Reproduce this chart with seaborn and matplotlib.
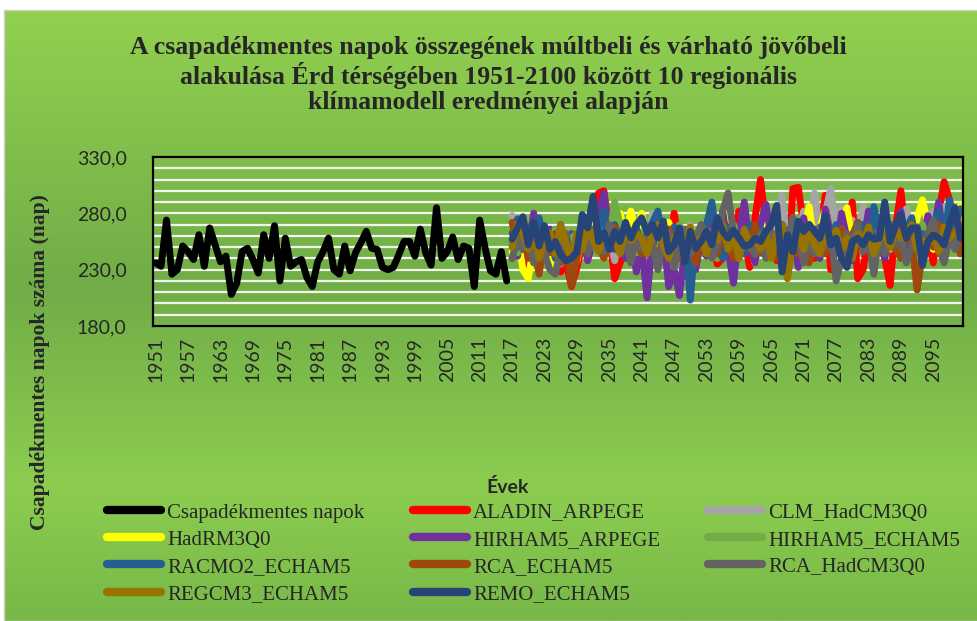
import numpy as np
import pandas as pd
import matplotlib
matplotlib.use('Agg')
import matplotlib.pyplot as plt
import seaborn as sns
from matplotlib.lines import Line2D
from matplotlib.patches import Rectangle
from matplotlib.colors import LinearSegmentedColormap

# ====================== DATA ======================
obs_years = list(range(1951, 2017))
model_years = list(range(2017, 2101))

observed = [236, 233, 274, 226, 230, 251, 246, 239, 261, 233,
            267, 252, 237, 242, 208, 218, 246, 249, 239, 227,
            261, 240, 269, 220, 258, 233, 237, 239, 223, 215,
            237, 246, 258, 230, 226, 251, 229, 245, 254, 264,
            249, 248, 232, 230, 232, 243, 255, 255, 242, 266,
            245, 234, 285, 240, 246, 259, 239, 251, 249, 215,
            274, 249, 229, 226, 246, 220]

aladin_arpege = [240, 262, 248, 235, 258, 270, 244, 262, 250, 228, 236, 215,
                 232, 252, 245, 270, 298, 300, 262, 222, 236, 250, 258, 242,
                 235, 262, 248, 270, 252, 240, 280, 255, 245, 232, 262, 248,
                 270, 255, 235, 240, 262, 250, 282, 258, 232, 276, 310, 270,
                 250, 238, 262, 225, 302, 303, 268, 245, 240, 262, 296, 230,
                 258, 278, 262, 290, 222, 230, 262, 248, 262, 240, 216, 268,
                 300, 255, 248, 268, 240, 258, 236, 280, 308, 292, 262, 256]

clm_hadcm3q0 = [278, 255, 262, 240, 258, 248, 266, 240, 256, 235, 248, 262,
                250, 268, 240, 256, 272, 248, 260, 238, 265, 252, 270, 255,
                262, 248, 280, 255, 242, 266, 250, 258, 240, 270, 252, 262,
                248, 270, 255, 276, 258, 244, 266, 252, 270, 262, 248, 280,
                258, 265, 296, 248, 276, 260, 282, 268, 298, 262, 280, 302,
                265, 285, 258, 274, 262, 286, 250, 270, 262, 280, 248, 266,
                258, 284, 262, 240, 270, 258, 282, 262, 286, 255, 270, 260]

hadrm3q0 = [245, 262, 230, 222, 252, 240, 258, 246, 232, 260, 244, 250,
            238, 260, 248, 270, 252, 240, 264, 250, 280, 258, 282, 262,
            280, 255, 270, 262, 248, 272, 256, 264, 242, 268, 258, 250,
            262, 240, 270, 252, 284, 258, 246, 270, 255, 236, 262, 276,
            248, 258, 240, 262, 272, 250, 264, 286, 252, 266, 284, 260,
            248, 264, 285, 256, 270, 250, 262, 240, 274, 258, 266, 252,
            268, 240, 250, 276, 292, 270, 248, 262, 274, 284, 258, 287]

hirham5_arpege = [252, 242, 270, 248, 280, 240, 256, 266, 246, 270, 240, 262,
                  250, 268, 238, 256, 278, 298, 262, 248, 258, 240, 262, 228,
                  250, 205, 258, 240, 262, 215, 230, 207, 248, 260, 230, 258,
                  242, 270, 252, 282, 248, 218, 262, 290, 252, 236, 270, 288,
                  258, 240, 270, 248, 262, 232, 276, 250, 266, 240, 284, 262,
                  245, 280, 258, 238, 272, 254, 282, 248, 264, 240, 270, 262,
                  282, 250, 266, 240, 256, 278, 262, 290, 256, 272, 250, 262]

hirham5_echam5 = [255, 245, 262, 250, 268, 242, 258, 248, 266, 252, 240, 258,
                  262, 248, 270, 255, 244, 262, 258, 290, 270, 250, 262, 245,
                  258, 270, 252, 242, 264, 256, 248, 270, 258, 236, 262, 250,
                  266, 252, 240, 262, 255, 270, 248, 258, 266, 244, 258, 252,
                  240, 262, 250, 232, 258, 266, 252, 270, 256, 244, 262, 258,
                  250, 266, 238, 258, 270, 252, 262, 246, 258, 270, 250, 262,
                  248, 262, 256, 240, 270, 252, 262, 246, 258, 266, 252, 262]

racmo2_echam5 = [262, 275, 248, 268, 256, 276, 250, 262, 240, 268, 255, 245,
                 258, 262, 270, 252, 266, 282, 248, 270, 256, 262, 240, 268,
                 250, 262, 272, 282, 250, 242, 268, 240, 262, 203, 262, 250,
                 270, 290, 255, 240, 268, 250, 262, 244, 270, 256, 266, 252,
                 262, 244, 270, 256, 276, 250, 262, 270, 248, 258, 266, 250,
                 270, 255, 244, 262, 256, 270, 250, 286, 262, 248, 270, 258,
                 252, 266, 276, 250, 262, 256, 270, 282, 258, 292, 268, 284]

rca_echam5 = [272, 250, 262, 240, 256, 226, 258, 245, 262, 236, 250, 216,
              240, 258, 246, 262, 252, 240, 258, 268, 250, 262, 246, 258,
              244, 262, 250, 240, 258, 266, 252, 240, 262, 250, 236, 258,
              250, 262, 244, 268, 252, 240, 258, 262, 250, 270, 245, 258,
              262, 240, 256, 250, 268, 244, 262, 236, 258, 250, 244, 262,
              252, 266, 240, 260, 272, 250, 262, 244, 258, 250, 264, 248,
              240, 262, 256, 212, 244, 262, 250, 270, 258, 252, 265, 244]

rca_hadcm3q0 = [240, 258, 248, 262, 236, 255, 244, 230, 226, 248, 262, 240,
                250, 262, 244, 266, 258, 246, 270, 262, 248, 258, 236, 260,
                248, 262, 252, 230, 258, 262, 232, 250, 266, 244, 258, 270,
                262, 240, 252, 282, 298, 262, 240, 256, 250, 244, 262, 240,
                262, 258, 270, 250, 276, 262, 236, 258, 244, 268, 250, 262,
                220, 240, 262, 250, 270, 246, 258, 226, 262, 244, 258, 252,
                262, 236, 250, 268, 240, 262, 274, 250, 236, 260, 248, 264]

regcm3_echam5 = [250, 270, 262, 248, 266, 240, 256, 262, 244, 270, 252, 240,
                 262, 248, 270, 256, 246, 262, 252, 258, 244, 268, 256, 262,
                 258, 244, 262, 270, 252, 240, 258, 262, 246, 268, 250, 258,
                 244, 262, 256, 270, 248, 262, 240, 266, 252, 258, 248, 262,
                 240, 262, 270, 222, 256, 262, 248, 268, 252, 244, 262, 256,
                 265, 248, 258, 240, 262, 252, 268, 244, 258, 262, 250, 266,
                 258, 262, 270, 248, 256, 252, 262, 246, 268, 258, 262, 270]

remo_echam5 = [257, 267, 277, 252, 272, 251, 269, 248, 255, 243, 238, 240,
               246, 279, 267, 295, 255, 263, 248, 264, 255, 272, 258, 270,
               276, 263, 270, 258, 273, 246, 252, 267, 237, 264, 249, 255,
               264, 252, 276, 264, 258, 265, 258, 251, 252, 258, 255, 264,
               270, 287, 228, 261, 246, 273, 264, 270, 264, 258, 278, 252,
               258, 240, 232, 255, 258, 252, 261, 257, 258, 290, 255, 269,
               279, 258, 267, 267, 234, 255, 261, 258, 252, 270, 285, 258]

series_names = ['Csapadékmentes napok', 'ALADIN_ARPEGE', 'CLM_HadCM3Q0', 'HadRM3Q0',
                'HIRHAM5_ARPEGE', 'HIRHAM5_ECHAM5', 'RACMO2_ECHAM5', 'RCA_ECHAM5',
                'RCA_HadCM3Q0', 'REGCM3_ECHAM5', 'REMO_ECHAM5']
series_colors = ['#000000', '#FF0000', '#A5A5A5', '#FFFF00', '#7030A0', '#70AD47',
                 '#255E91', '#9E480E', '#636363', '#997300', '#264478']

model_values = [aladin_arpege, clm_hadcm3q0, hadrm3q0, hirham5_arpege, hirham5_echam5,
                racmo2_echam5, rca_echam5, rca_hadcm3q0, regcm3_echam5, remo_echam5]

# ====================== Long table for seaborn ======================
frames = [pd.DataFrame({'Év': obs_years, 'Napok': observed, 'Sorozat': series_names[0]})]
for name, vals in zip(series_names[1:], model_values):
    assert len(vals) == len(model_years), name
    frames.append(pd.DataFrame({'Év': model_years, 'Napok': vals, 'Sorozat': name}))
df = pd.concat(frames, ignore_index=True)

# ====================== Figure ======================
sns.set_theme(style='white')
plt.rcParams['font.family'] = ['Lato', 'DejaVu Sans']

W, H = 977, 621
fig = plt.figure(figsize=(W / 100, H / 100), dpi=100)
fig.patch.set_facecolor('white')

# green gradient chart area
grad = LinearSegmentedColormap.from_list('g', [(0.0, '#92D050'), (0.45, '#70AD47'),
                                               (0.78, '#8CCD50'), (1.0, '#78B848')])
bg = fig.add_axes([5 / W, 0, 1 - 5 / W, 1 - 11 / H], zorder=-10)
bg.imshow(np.linspace(0, 1, 400).reshape(-1, 1), aspect='auto', cmap=grad,
          extent=[0, 1, 0, 1], origin='upper')
bg.set_axis_off()
fig.add_artist(Rectangle((4 / W, 0), 1, 1 - 10 / H, transform=fig.transFigure,
                         fill=False, edgecolor='#D0D0D0', lw=1))

ax = fig.add_axes([153 / W, 1 - 326 / H, 810 / W, 169 / H])
ax.patch.set_alpha(0)

sns.lineplot(data=df, x='Év', y='Napok', hue='Sorozat', hue_order=series_names,
             palette=series_colors, linewidth=5, legend=False, ax=ax,
             estimator=None, sort=False)

ax.set_xlim(1950.5, 2100.5)
ax.set_ylim(180, 330)
ax.set_yticks(range(180, 331, 50))
ax.set_yticklabels([f'{v:.1f}'.replace('.', ',') for v in range(180, 331, 50)], fontsize=14)
ax.set_yticks(range(180, 331, 10), minor=True)
ax.set_xticks(range(1951, 2101, 6))
ax.set_xticklabels([str(y) for y in range(1951, 2101, 6)], rotation=90, fontsize=14)
ax.set_xticks(range(1951, 2101), minor=True)
ax.grid(which='both', axis='y', color='white', lw=1.6, alpha=0.9)
ax.grid(which='both', axis='x', visible=False)
ax.set_axisbelow(True)
ax.tick_params(axis='x', which='both', direction='out', length=5, width=1, color='black', pad=3)
ax.tick_params(axis='y', which='major', direction='out', length=5, width=1, color='black', pad=14)
ax.tick_params(axis='y', which='minor', length=0)
for s in ax.spines.values():
    s.set_visible(True)
    s.set_color('black')
    s.set_linewidth(1.6)
ax.set_xlabel('')
ax.set_ylabel('')

# ====================== Text ======================
title = ('A csapadékmentes napok összegének múltbeli és várható jövőbeli\n'
         'alakulása Érd térségében 1951-2100 között 10 regionális\n'
         'klímamodell eredményei alapján')
fig.text(0.5, 1 - 36 / H, title, ha='center', va='top', fontsize=18.5, fontweight='bold',
         family='Liberation Serif', linespacing=1.12)
fig.text(40 / W, 1 - 362 / H, 'Csapadékmentes napok száma (nap)', rotation=90,
         ha='center', va='center', fontsize=15.5, fontweight='bold', family='Liberation Serif')
fig.text(508 / W, 1 - 487 / H, 'Évek', ha='center', va='center', fontsize=14, fontweight='bold')

# ====================== Legend ======================
order = [0, 3, 6, 9, 1, 4, 7, 10, 2, 5, 8]
handles = [Line2D([0], [0], color=series_colors[i], lw=6, solid_capstyle='round') for i in order]
labels = [series_names[i] for i in order]
fig.legend(handles, labels, ncol=3, loc='upper left', bbox_to_anchor=(107 / W, 1 - 503 / H),
           frameon=False, prop={'family': 'Liberation Serif', 'size': 15},
           handlelength=2.6, handletextpad=0.3, columnspacing=2.3, labelspacing=0.36,
           borderpad=0, borderaxespad=0)

fig.savefig('out.png', dpi=100)
plt.close()
print('saved')
